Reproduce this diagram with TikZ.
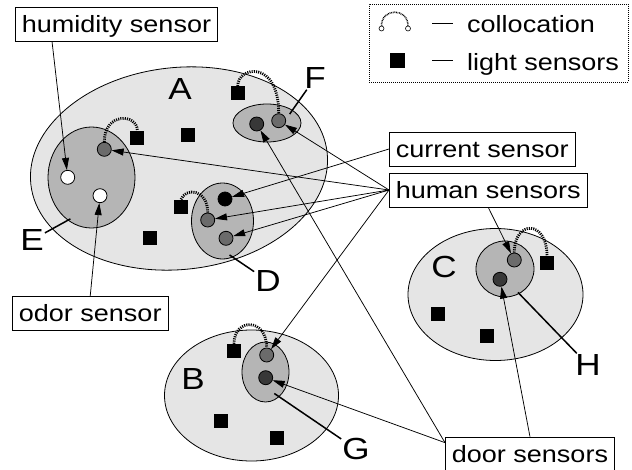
\documentclass[tikz,border=0pt]{standalone}
\usepackage{fontspec}
\setmainfont{Liberation Sans}[FakeStretch=1.15]
\usetikzlibrary{shapes.geometric,arrows.meta}

\begin{document}
\begin{tikzpicture}[x=1pt, y=-1pt,
  zone/.style={draw, ellipse, line width=0.8pt, fill=black!10, inner sep=0pt},
  sub/.style={zone, fill=black!29},
  dot/.style={draw, circle, line width=0.8pt, minimum size=14pt, inner sep=0pt},
  lt/.style={fill=black, minimum size=14pt, inner sep=0pt},
  tag/.style={draw, line width=0.7pt, font=\fontsize{23.5}{28}\selectfont, inner xsep=6.5pt,
              inner ysep=0pt, minimum height=34pt, text height=19pt, text depth=3pt},
  let/.style={font=\fontsize{30.5}{36}\selectfont, inner sep=1pt},
  arr/.style={-{Triangle[length=12pt,width=7pt]}, line width=0.75pt},
  lead/.style={line width=1.5pt},
  coll/.style={line width=2.8pt, dash pattern=on 1.1pt off 1.1pt}]
\useasboundingbox (0,0) rectangle (632,469);
% regions and sub-regions
\foreach \n/\s/\w/\h/\x/\y/\r in
  {zA/zone/298/202/179/168.5/6, zB/zone/174/131/251.5/395.5/0, zC/zone/175/132/495.5/294.5/0,
   zD/sub/62/76/222.5/221/0, zE/sub/87/101/91.5/177.5/0, zF/sub/68/38/267/123/0,
   zG/sub/47/60/265.5/372/0, zH/sub/58/56/505/269/0}
  \node[\s, minimum width=\w pt, minimum height=\h pt, rotate=\r] (\n) at (\x,\y) {};
\foreach \n/\l/\x/\y in {lA/A/180/89, lB/B/193/379, lC/C/444/267, lD/D/268/281,
   lE/E/32/240, lF/F/315/78, lG/G/356/449, lH/H/588/365}
  \node[let] (\n) at (\x,\y) {\l};
% light sensors
\foreach \n/\x/\y [count=\i] in {s1/137.3/137.7, s2/188.3/135, s3/237.7/93.3, s4/181/206.7,
   s5/150/237.7, s6/234/351, s7/221/421, s8/277/438, s9/547/263, s10/438/314, s11/487/336}
  \node[lt] (\n) at (\x,\y) {};
% sensors in the sub-regions
\foreach \n/\c/\x/\y in {e1/white/67.7/177.3, e2/white/100/195.7, e3/black!58/104.3/149.3,
   d1/black/225/199, d2/black!58/207.7/220, d3/black!58/226/238.3,
   f1/black!78/256.7/124, f2/black!58/278.7/120.7, g1/black!58/266.7/355, g2/black!78/265.7/377.7,
   h1/black!58/514.3/260, h2/black!78/500/279.3}
  \node[dot, fill=\c] (\n) at (\x,\y) {};
\node[tag, anchor=west] (humid) at (15,24) {humidity sensor};
\node[tag, anchor=west] (odor) at (12,313.5) {odor sensor};
\node[tag, anchor=west] (curr) at (389,149) {current sensor};
\node[tag, anchor=west] (human) at (389,190) {human sensors};
\node[tag, anchor=west] (door) at (445,454) {door sensors};
\draw[arr] ([xshift=37pt]humid.south west) -- (e1);
\draw[arr] (odor.north) -- (e2);
\draw[arr] (curr.west) -- (d1);
\foreach \t in {e3,f2,d2,d3,g1}
  \draw[arr] (human.west) -- (\t);
\draw[arr] (human.south) -- (h1);
\foreach \t in {f1,g2}
  \draw[arr] ([yshift=-6pt]door.north west) -- (\t);
\draw[arr] (door.north) -- (h2);
\draw[lead, shorten >=-3pt] (lE) -- (zE.241);
\draw[lead, shorten >=-4pt] (lD) -- (zD.286);
\draw[lead, shorten >=-5pt] (lF) -- (zF.27);
\draw[lead, shorten >=-6pt] (lG) -- (zG.299);
\draw[lead, shorten >=-2pt] (lH) -- (zH.300);
% collocation links
\draw[coll] (e3.north) .. controls +(0,-30) and +(0,-17) .. (s1.north);
\draw[coll] (s3.north) .. controls +(0,-20) and +(0,-54) .. (f2.north);
\draw[coll] (d2.north) .. controls +(0,-24) and +(4,-12) .. (s4.north);
\draw[coll] (s6.north) .. controls +(0,-26) and +(0,-30) .. (g1.north);
\draw[coll] (h1.north) .. controls +(0,-33) and +(0,-36) .. (s9.north);
% key
\node[draw, line width=0.6pt, dash pattern=on 0.8pt off 1.2pt, minimum width=259pt,
      minimum height=78pt, inner sep=0pt] (key) at (498.5,43) {};
\node[draw, circle, line width=0.6pt, fill=white, minimum size=5pt, inner sep=0pt] (k1) at (381.5,28.5) {};
\node[draw, circle, line width=0.6pt, fill=white, minimum size=5pt, inner sep=0pt] (k2) at (408,28.5) {};
\draw[line width=1.5pt, dash pattern=on 0.8pt off 0.8pt] (k1.north) .. controls +(0,-18) and +(0,-18) .. (k2.north);
\node[lt, minimum size=15pt] (ks) at (397,60) {};
\draw[line width=0.8pt] (432,23) -- +(21,0);
\draw[line width=0.8pt] (432,60) -- +(21,0);
\node[anchor=base west, font=\fontsize{23.5}{28}\selectfont, inner sep=0pt] (kc) at (467,32.5) {collocation};
\node[anchor=base west, font=\fontsize{23.5}{28}\selectfont, inner sep=0pt] (kl) at (467,70.5) {light sensors};
\end{tikzpicture}
\end{document}
